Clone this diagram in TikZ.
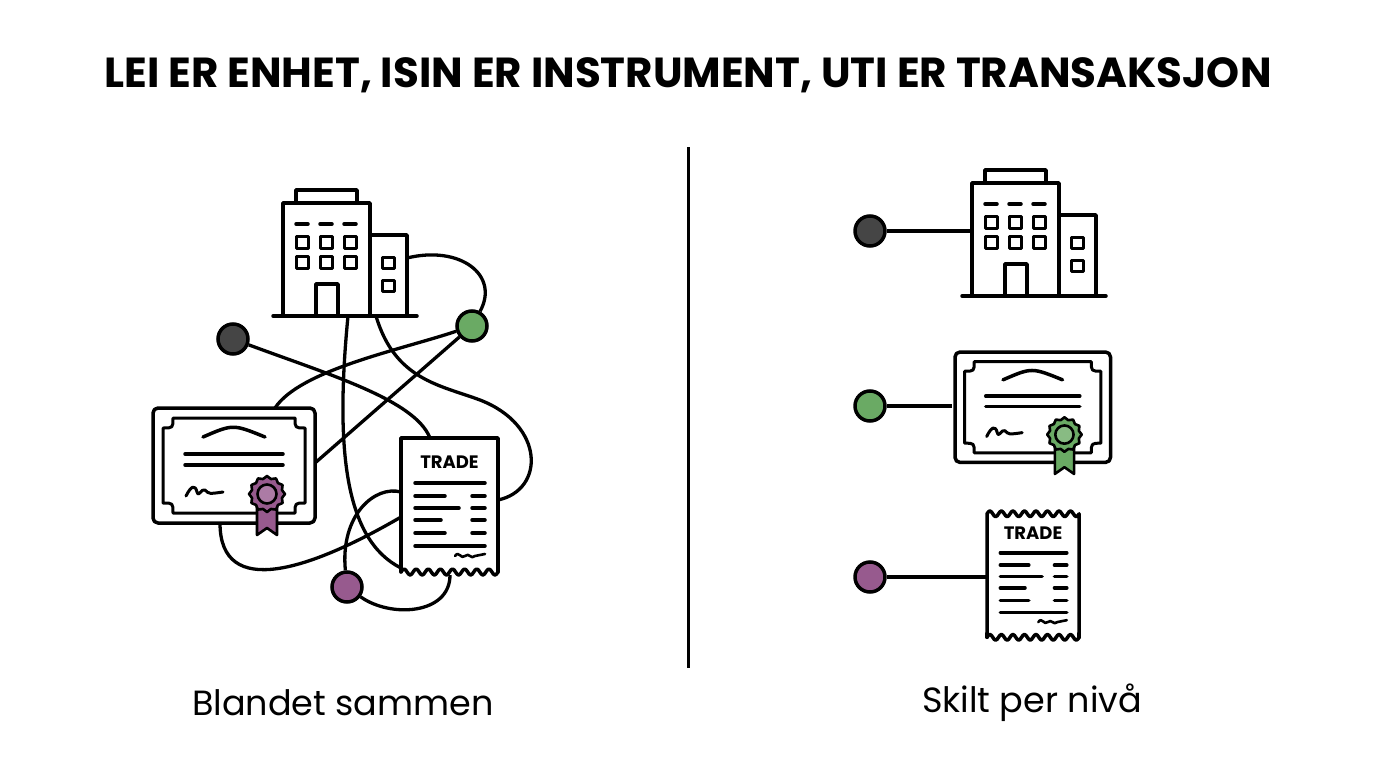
\documentclass[tikz,border=0pt]{standalone}
\usepackage{fontspec}
\setmainfont{Poppins}
\usetikzlibrary{positioning, calc}

\definecolor{dotdark}{HTML}{454545}
\definecolor{dotgreen}{HTML}{6AAA64}
\definecolor{dotpurple}{HTML}{975A8E}

\tikzset{
    ink/.style={draw=black, line width=3.5pt, line join=round, line cap=round},
    dot/.style={circle, draw=black, line width=3.5pt, minimum size=30pt, inner sep=0pt},
    wire/.style={draw=black, line width=3.3pt},
    pics/building/.style={code={
        \draw[ink, fill=white] (13,0) rectangle (74,-13);
        \draw[ink, fill=white] (0,0) rectangle (87,113);
        \draw[ink, fill=white] (87,32) rectangle (124,113);
        \draw[ink] (-10,113) -- (134,113);
        \foreach \cx in {13,37,61} {
            \draw[ink] (\cx,21) -- ++(12,0);
            \draw[ink, line width=3pt] (\cx,33) rectangle ++(12,12);
            \draw[ink, line width=3pt] (\cx,53) rectangle ++(12,12);
        }
        \draw[ink] (33,113) -- (33,81) -- (55,81) -- (55,113);
        \draw[ink, line width=3pt] (99,54) rectangle ++(12,11);
        \draw[ink, line width=3pt] (99,77) rectangle ++(12,11);
    }},
    pics/certificate/.style={code={
        \draw[ink, fill=white, rounded corners=5pt] (0,0) rectangle (162,115);
        \draw[ink, line width=3pt] (20,10) -- (142,10)
            .. controls (142,20) .. (152,20) -- (152,95)
            .. controls (142,95) .. (142,105) -- (20,105)
            .. controls (20,95) .. (10,95) -- (10,20)
            .. controls (20,20) .. (20,10) -- cycle;
        \draw[ink] (50,29) .. controls (80,16) .. (112,29);
        \draw[ink] (32,46) -- (130,46);
        \draw[ink] (32,57) -- (130,57);
        \draw[ink, line width=3pt] (33,88) .. controls (38,78) and (42,76) .. (44,84)
            .. controls (46,90) and (48,80) .. (52,82) .. controls (56,86) .. (70,84);
        \draw[ink, line width=2.6pt, fill=#1] (104,90) -- (104,127) -- (114,120) -- (124,127) -- (124,90) -- cycle;
        \draw[ink, line width=2.6pt, fill=#1] (132,86) \foreach \k in {0,...,11} {
            -- ({114+18*cos(\k*30)},{86+18*sin(\k*30)}) -- ({114+15.5*cos(\k*30+15)},{86+15.5*sin(\k*30+15)})} -- cycle;
        \draw[ink, line width=2.6pt, fill=#1!80!white] (114,86) circle (9.5);
    }},
    pics/receipt/.style={code={
        \fill[white] (0,0) rectangle (97,136);
        \ifnum#1=1
            \draw[ink] (0,130) -- (0,4) \foreach \k in {0,...,7} {
                sin ({\k*12.125+3.03},1) cos ({\k*12.125+6.06},4) sin ({\k*12.125+9.09},7) cos ({\k*12.125+12.125},4)} -- (97,130);
        \else
            \draw[ink] (0,130) -- (0,0) -- (97,0) -- (97,130);
        \fi
        \draw[ink] (0,134) \foreach \k in {0,...,7} {
            sin ({\k*12.125+3.03},131) cos ({\k*12.125+6.06},134) sin ({\k*12.125+9.09},137) cos ({\k*12.125+12.125},134)};
        \draw[ink] (0,130) -- (0,134) (97,130) -- (97,134);
        \node[font=\fontsize{18}{18}\selectfont\bfseries] at (48.5,24) {TRADE};
        \draw[ink] (14,45) -- (84,45);
        \foreach \yy/\len in {58/30,70/44,82/26,95/30} {
            \draw[ink] (14,\yy) -- ++(\len,0);
            \draw[ink] (71,\yy) -- (84,\yy);
        }
        \draw[ink] (14,108) -- (84,108);
        \draw[ink, line width=2.6pt] (54,118) .. controls (58,112) and (60,122) .. (64,118)
            .. controls (68,114) and (70,122) .. (74,118) -- (84,116);
    }}
}

\begin{document}
\begin{tikzpicture}[x=1pt, y=-1pt]
    \useasboundingbox (0,0) rectangle (1376,768);

    % Title
    \node[font=\fontsize{42}{44}\selectfont\bfseries] (title) at (688,75)
        {LEI ER ENHET, ISIN ER INSTRUMENT, UTI ER TRANSAKSJON};

    % Divider
    \draw[line width=3pt] (688,147) -- (688,668);

    % Left side: tangled
    \node[dot, fill=dotdark] (ldark) at (233,339) {};
    \node[dot, fill=dotgreen] (lgreen) at (472,326) {};
    \node[dot, fill=dotpurple] (lpurple) at (347,587) {};

    \coordinate (rcpttop) at (430,438);
    \coordinate (certtop) at (275,408);
    \coordinate (certright) at (315,463);
    \coordinate (certbot) at (220,523);
    \coordinate (bldgA) at (348,316);
    \coordinate (bldgB) at (376,316);
    \coordinate (annex) at (407,258);
    \coordinate (rcptleftA) at (401,568);
    \coordinate (rcptleftB) at (401,517);
    \coordinate (rcptleftC) at (401,492);
    \coordinate (rcptright) at (498,500);
    \coordinate (rcptbot) at (450,575);

    \draw[wire] (ldark) .. controls (330,375) and (415,400) .. (rcpttop);
    \draw[wire] (lgreen) .. controls (400,350) and (300,370) .. (certtop);
    \draw[wire] (lgreen) -- (certright);
    \draw[wire] (bldgA) .. controls (335,450) and (345,540) .. (rcptleftA);
    \draw[wire] (bldgB) .. controls (395,380) and (440,385) .. (480,400)
        .. controls (545,425) and (545,490) .. (rcptright);
    \draw[wire] (annex) .. controls (460,245) and (500,275) .. (lgreen);
    \draw[wire] (certbot) .. controls (220,600) and (310,570) .. (rcptleftB);
    \draw[wire] (lpurple) .. controls (340,515) and (375,485) .. (rcptleftC);
    \draw[wire] (lpurple) .. controls (390,618) and (450,615) .. (rcptbot);

    \pic (lbldg) at (283,203) {building};
    \pic (lcert) at (153,408) {certificate=dotpurple};
    \pic (lrcpt) at (401,438) {receipt=0};

    \node[font=\fontsize{35}{36}\selectfont] (lblleft) at (343,703) {Blandet sammen};

    % Right side: separated
    \node[dot, fill=dotdark] (rdark) at (870,231) {};
    \node[dot, fill=dotgreen] (rgreen) at (870,406) {};
    \node[dot, fill=dotpurple] (rpurple) at (870,577) {};

    \draw[wire] (rdark) -- (972,231);
    \draw[wire] (rgreen) -- (952,406);
    \draw[wire] (rpurple) -- (987,577);

    \pic (rbldg) at (972,183) {building};
    \pic[scale=0.96] (rcert) at (955,352) {certificate=dotgreen};
    \pic[scale=0.95] (rrcpt) at (987,510) {receipt=1};

    \node[font=\fontsize{35}{36}\selectfont] (lblright) at (1032,703) {Skilt per nivå};
\end{tikzpicture}
\end{document}
